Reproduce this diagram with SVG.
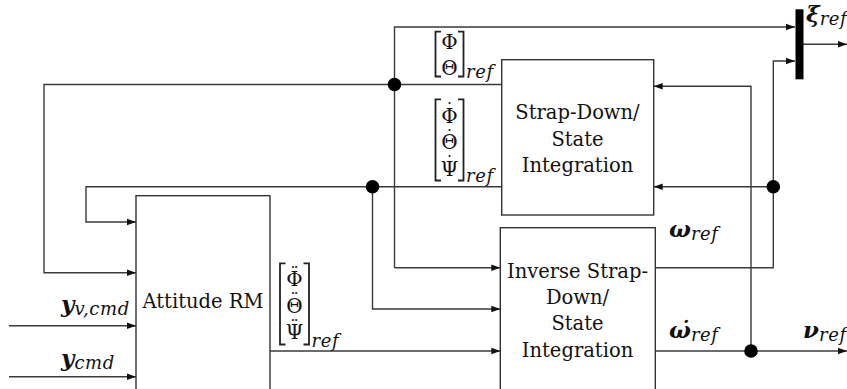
<svg xmlns="http://www.w3.org/2000/svg" width="847" height="389" viewBox="0 0 847 389">
<defs>
<marker id="ah" markerUnits="userSpaceOnUse" markerWidth="10" markerHeight="8" refX="9" refY="4" orient="auto">
<path d="M0,0.8 L9,4 L0,7.2 z" fill="#111"/>
</marker>
<style>
.box{fill:#fff;stroke:#333;stroke-width:1.4}
.ln{fill:none;stroke:#3a3a3a;stroke-width:1.4}
.br{fill:none;stroke:#222;stroke-width:1.8}
.dot{fill:#000}
.lbl{font-family:"DejaVu Serif","Liberation Serif",serif;font-size:19.5px;fill:#111;text-anchor:middle}
.mx{font-family:"DejaVu Serif","Liberation Serif",serif;font-size:20px;fill:#111;text-anchor:middle}
.acc{font-size:17px}
.sym{font-family:"DejaVu Serif","Liberation Serif",serif;font-size:23px;font-weight:bold;font-style:italic;fill:#111}
.sub{font-family:"DejaVu Serif","Liberation Serif",serif;font-size:18px;font-style:italic;fill:#111;letter-spacing:0.6px}
</style>
</defs>

<g id="connectors">
<polyline class="ln" points="394.5,267.7 394.5,27 795,27" marker-end="url(#ah)"/>
<polyline class="ln" points="394.5,267.7 500.3,267.7" marker-end="url(#ah)"/>
<polyline class="ln" points="501.7,84.5 44,84.5 44,272.7 136,272.7" marker-end="url(#ah)"/>
<polyline class="ln" points="501.7,186.7 86,186.7 86,222 136,222" marker-end="url(#ah)"/>
<polyline class="ln" points="372.5,186.7 372.5,309 500.3,309" marker-end="url(#ah)"/>
<polyline class="ln" points="270,351 500.3,351" marker-end="url(#ah)"/>
<polyline class="ln" points="9,325.7 136,325.7" marker-end="url(#ah)"/>
<polyline class="ln" points="9,376.7 136,376.7" marker-end="url(#ah)"/>
<polyline class="ln" points="655.3,267.7 773.3,267.7 773.3,61 795,61" marker-end="url(#ah)"/>
<polyline class="ln" points="773.3,186.7 653.7,186.7" marker-end="url(#ah)"/>
<polyline class="ln" points="655.3,351 847,351" marker-end="url(#ah)"/>
<polyline class="ln" points="751,351 751,86.3 653.7,86.3" marker-end="url(#ah)"/>
<polyline class="ln" points="803,44.3 847,44.3" marker-end="url(#ah)"/>
<circle class="dot" cx="394.5" cy="84.5" r="6.8"/>
<circle class="dot" cx="372.5" cy="186.7" r="6.8"/>
<circle class="dot" cx="773.3" cy="186.7" r="6.8"/>
<circle class="dot" cx="751" cy="351" r="6.8"/>
</g>

<g id="strapdown">
<rect class="box" x="501.7" y="59.7" width="152" height="155.3"/>
<text class="lbl" x="577.5" y="119">Strap-Down/</text>
<text class="lbl" x="577.5" y="145.5">State</text>
<text class="lbl" x="577.5" y="171.5">Integration</text>
</g>

<g id="inverse">
<rect class="box" x="500.3" y="227.7" width="155" height="170"/>
<text class="lbl" x="577.5" y="277.5">Inverse Strap-</text>
<text class="lbl" x="577.5" y="304">Down/</text>
<text class="lbl" x="577.5" y="330">State</text>
<text class="lbl" x="577.5" y="356.5">Integration</text>
</g>

<g id="attitude">
<rect class="box" x="136" y="195.7" width="134" height="202"/>
<text class="lbl" x="203" y="307.5">Attitude RM</text>
</g>

<g id="xibar">
<rect x="795.5" y="9.3" width="8" height="70" fill="#000"/>
<text x="806" y="22"><tspan class="sym">ξ</tspan><tspan class="sub" dy="3">ref</tspan></text>
</g>

<g id="label-att">
<polyline class="br" points="441,31.7 435.5,31.7 435.5,76.5 441,76.5"/>
<polyline class="br" points="458,31.7 463.5,31.7 463.5,76.5 458,76.5"/>
<text class="mx"><tspan x="449.5" y="49">Φ</tspan><tspan x="449.5" y="75">Θ</tspan></text>
<text class="sub" x="466" y="78">ref</text>
</g>

<g id="label-attrate">
<polyline class="br" points="441,99.3 435.5,99.3 435.5,180.5 441,180.5"/>
<polyline class="br" points="458,99.3 463.5,99.3 463.5,180.5 458,180.5"/>
<text class="mx"><tspan x="449.5" y="122.5">Φ</tspan><tspan class="acc" x="449.5" y="115">˙</tspan><tspan x="449.5" y="149">Θ</tspan><tspan class="acc" x="449.5" y="141.5">˙</tspan><tspan x="449.5" y="175.5">Ψ</tspan><tspan class="acc" x="449.5" y="168">˙</tspan></text>
<text class="sub" x="466" y="182">ref</text>
</g>

<g id="label-attacc">
<polyline class="br" points="285.5,263.3 280,263.3 280,344.5 285.5,344.5"/>
<polyline class="br" points="303.5,263.3 309,263.3 309,344.5 303.5,344.5"/>
<text class="mx"><tspan x="294.5" y="286">Φ</tspan><tspan class="acc" x="294.5" y="278.5">¨</tspan><tspan x="294.5" y="312.5">Θ</tspan><tspan class="acc" x="294.5" y="305">¨</tspan><tspan x="294.5" y="339">Ψ</tspan><tspan class="acc" x="294.5" y="331.5">¨</tspan></text>
<text class="sub" x="311.5" y="347">ref</text>
</g>

<g id="label-omega">
<text x="669" y="237"><tspan class="sym">ω</tspan><tspan class="sub" dy="3">ref</tspan></text>
</g>
<g id="label-omegadot">
<text x="669" y="338"><tspan class="sym">ω̇</tspan><tspan class="sub" dy="3">ref</tspan></text>
</g>
<g id="label-nu">
<text x="803" y="338"><tspan class="sym">ν</tspan><tspan class="sub" dy="3">ref</tspan></text>
</g>
<g id="label-yv">
<text x="61" y="312"><tspan class="sym">y</tspan><tspan class="sub" dy="3">v,cmd</tspan></text>
</g>
<g id="label-y">
<text x="61" y="366"><tspan class="sym">y</tspan><tspan class="sub" dy="3">cmd</tspan></text>
</g>
</svg>
